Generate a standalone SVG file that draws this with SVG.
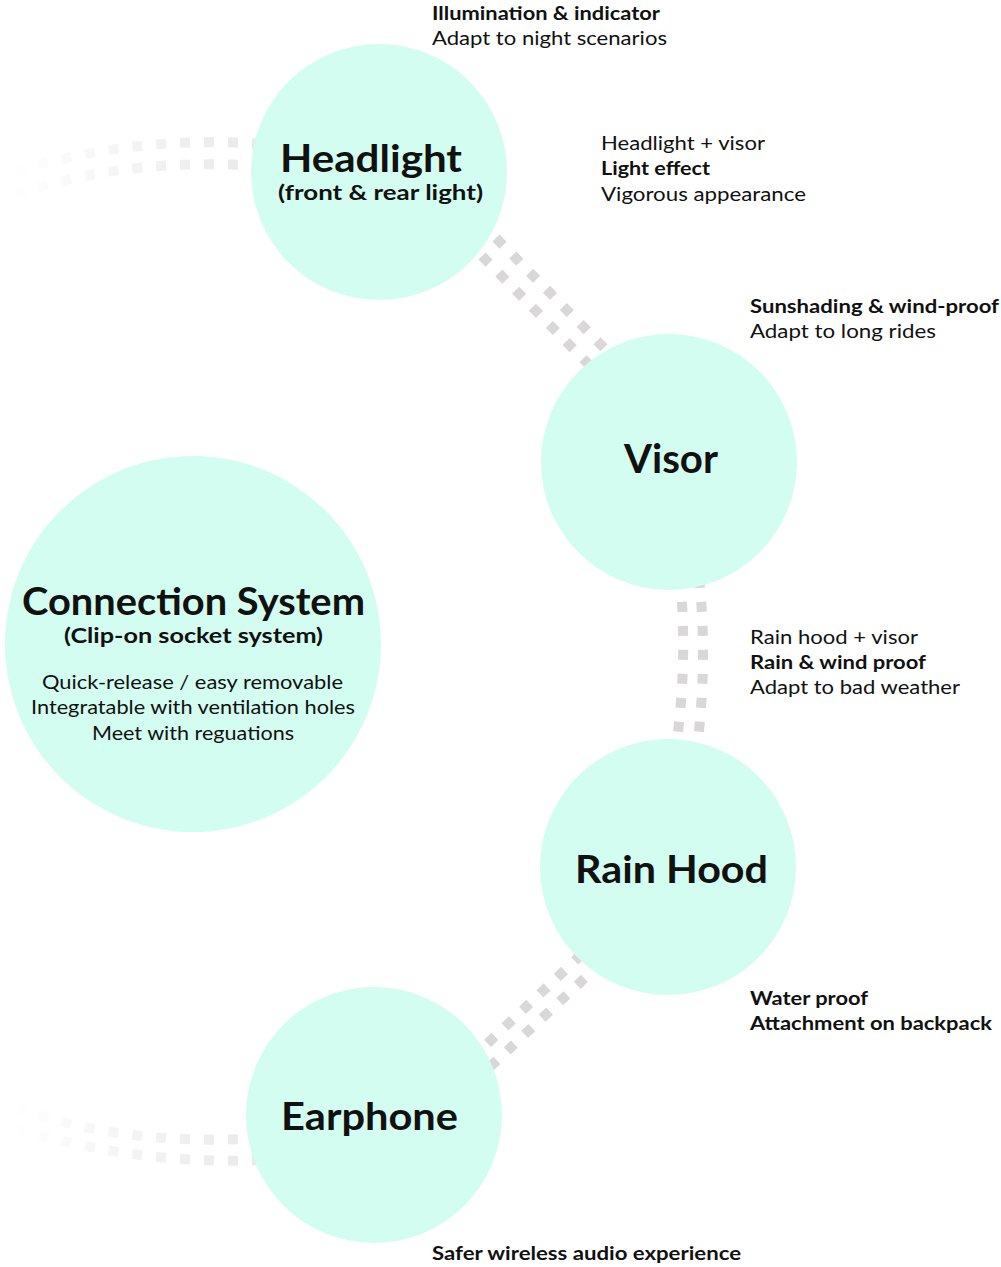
<svg xmlns="http://www.w3.org/2000/svg" width="1001" height="1267" viewBox="0 0 1001 1267">
  <style>
    .node { fill: #d3fdf0; }
    .track { fill: none; stroke: #d9d7d7; stroke-width: 10; stroke-dasharray: 10 14; }
    .fade-top { stroke: url(#fadeTop); }
    .fade-bottom { stroke: url(#fadeBottom); }
    text { font-family: Lato, "Noto Sans", "DejaVu Sans", sans-serif; fill: #111; }
    .title { font-size: 38px; font-weight: 700; text-anchor: middle; }
    .sub { font-size: 21px; font-weight: 700; text-anchor: middle; }
    .body { font-size: 20px; text-anchor: middle; }
    .note { font-size: 19.5px; }
    .note-b { font-size: 19.5px; font-weight: 700; }
  </style>
  <defs>
    <linearGradient id="fadeTop" gradientUnits="userSpaceOnUse" x1="255" y1="0" x2="10" y2="0">
      <stop offset="0" stop-color="#e9e9e9"/>
      <stop offset="1" stop-color="#ffffff"/>
    </linearGradient>
    <linearGradient id="fadeBottom" gradientUnits="userSpaceOnUse" x1="255" y1="0" x2="10" y2="0">
      <stop offset="0" stop-color="#e9e9e9"/>
      <stop offset="1" stop-color="#ffffff"/>
    </linearGradient>
  </defs>

  <!-- dotted double tracks linking the modules -->
  <g id="connectors">
    <path class="track fade-top" d="M 262 144 C 180 138, 100 146, 12 172"/>
    <path class="track fade-top" d="M 262 166 C 180 160, 90 168, 12 196"/>
    <path class="track" d="M 496 238 L 612 356"/>
    <path class="track" d="M 482 256 L 598 374"/>
    <path class="track" d="M 680 578 Q 688 660 676 748"/>
    <path class="track" d="M 699 578 Q 708 660 697 748"/>
    <path class="track" d="M 582 954 L 470 1060"/>
    <path class="track" d="M 602 962 L 476 1080"/>
    <path class="track fade-bottom" d="M 262 1138 C 170 1144, 90 1134, 18 1108"/>
    <path class="track fade-bottom" d="M 262 1160 C 170 1164, 80 1150, 4 1124"/>
  </g>

  <g id="headlight">
    <circle class="node" cx="379" cy="172" r="128"/>
    <text class="title" x="371" y="172" textLength="182" lengthAdjust="spacingAndGlyphs">Headlight</text>
    <text class="sub" x="380.5" y="200" textLength="205" lengthAdjust="spacingAndGlyphs">(front &amp; rear light)</text>
    <text class="note-b" x="432" y="20" textLength="228" lengthAdjust="spacingAndGlyphs">Illumination &amp; indicator</text>
    <text class="note" x="432" y="45" textLength="235" lengthAdjust="spacingAndGlyphs">Adapt to night scenarios</text>
  </g>

  <g id="visor">
    <circle class="node" cx="669" cy="462" r="128"/>
    <text class="title" x="671" y="473" style="font-size:40px" textLength="94" lengthAdjust="spacingAndGlyphs">Visor</text>
    <text class="note" x="601" y="150" textLength="164" lengthAdjust="spacingAndGlyphs">Headlight + visor</text>
    <text class="note-b" x="601" y="175" textLength="109" lengthAdjust="spacingAndGlyphs">Light effect</text>
    <text class="note" x="601" y="201" textLength="205" lengthAdjust="spacingAndGlyphs">Vigorous appearance</text>
    <text class="note-b" x="750" y="313" textLength="249" lengthAdjust="spacingAndGlyphs">Sunshading &amp; wind-proof</text>
    <text class="note" x="750" y="338" textLength="186" lengthAdjust="spacingAndGlyphs">Adapt to long rides</text>
  </g>

  <g id="rain-hood">
    <circle class="node" cx="668" cy="867" r="128"/>
    <text class="title" x="671.5" y="883" textLength="193" lengthAdjust="spacingAndGlyphs">Rain Hood</text>
    <text class="note" x="750" y="644" textLength="168" lengthAdjust="spacingAndGlyphs">Rain hood + visor</text>
    <text class="note-b" x="750" y="669" textLength="176" lengthAdjust="spacingAndGlyphs">Rain &amp; wind proof</text>
    <text class="note" x="750" y="694" textLength="210" lengthAdjust="spacingAndGlyphs">Adapt to bad weather</text>
    <text class="note-b" x="750" y="1005" textLength="118" lengthAdjust="spacingAndGlyphs">Water proof</text>
    <text class="note-b" x="750" y="1030" textLength="242" lengthAdjust="spacingAndGlyphs">Attachment on backpack</text>
  </g>

  <g id="earphone">
    <circle class="node" cx="374" cy="1115" r="128"/>
    <text class="title" x="369.5" y="1130" textLength="177" lengthAdjust="spacingAndGlyphs">Earphone</text>
    <text class="note-b" x="432" y="1260" textLength="309" lengthAdjust="spacingAndGlyphs">Safer wireless audio experience</text>
  </g>

  <g id="connection-system">
    <circle class="node" cx="193" cy="644" r="188"/>
    <text class="title" x="193.5" y="615" textLength="343" lengthAdjust="spacingAndGlyphs">Connection System</text>
    <text class="sub" x="193.5" y="643" textLength="259" lengthAdjust="spacingAndGlyphs">(Clip-on socket system)</text>
    <text class="body" x="192.5" y="689" textLength="301" lengthAdjust="spacingAndGlyphs">Quick-release / easy removable</text>
    <text class="body" x="193" y="714" textLength="324" lengthAdjust="spacingAndGlyphs">Integratable with ventilation holes</text>
    <text class="body" x="193" y="740" textLength="202" lengthAdjust="spacingAndGlyphs">Meet with reguations</text>
  </g>
</svg>
